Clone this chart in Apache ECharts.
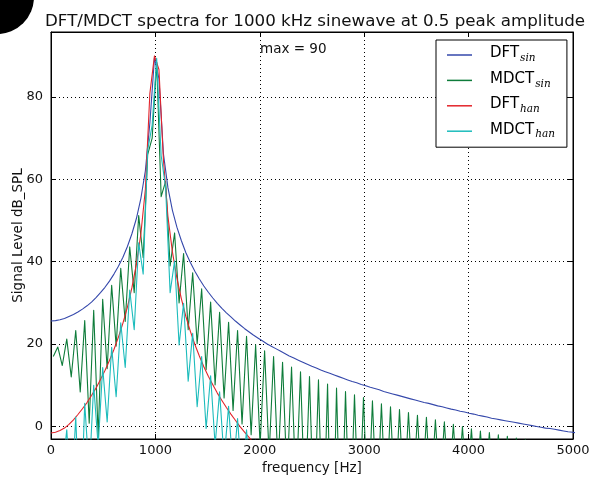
<!DOCTYPE html>
<html><head><meta charset="utf-8">
<script src="https://cdn.jsdelivr.net/npm/echarts@6/dist/echarts.min.js"></script>
<style>html,body{margin:0;padding:0;background:#fff}#c{width:592px;height:477px}</style>
</head><body><div id="c"></div>
<script>
// DFT bin frequencies (Hz)
const dftFreq = [0,43,86,129,172,215,258,301,345,388,431,474,517,560,603,646,689,732,775,818,861,904,947,991,1034,1077,1120,1163,1206,1249,1292,1335,1378,1421,1464,1507,1550,1593,1637,1680,1723,1766,1809,1852,1895,1938,1981,2024,2067,2110,2153,2196,2239,2282,2326,2369,2412,2455,2498,2541,2584,2627,2670,2713,2756,2799,2842,2885,2928,2972,3015,3058,3101,3144,3187,3230,3273,3316,3359,3402,3445,3488,3531,3574,3618,3661,3704,3747,3790,3833,3876,3919,3962,4005,4048,4091,4134,4177,4220,4264,4307,4350,4393,4436,4479,4522,4565,4608,4651,4694,4737,4780,4823,4866,4910,4953,4996,5039];
// MDCT bin frequencies (Hz)
const mdctFreq = [22,65,108,151,194,237,280,323,366,409,452,495,538,581,624,668,711,754,797,840,883,926,969,1012,1055,1098,1141,1184,1227,1270,1314,1357,1400,1443,1486,1529,1572,1615,1658,1701,1744,1787,1830,1873,1917,1960,2003,2046,2089,2132,2175,2218,2261,2304,2347,2390,2433,2476,2519,2562,2606,2649,2692,2735,2778,2821,2864,2907,2950,2993,3036,3079,3122,3165,3208,3252,3295,3338,3381,3424,3467,3510,3553,3596,3639,3682,3725,3768,3811,3854,3898,3941,3984,4027,4070,4113,4156,4199,4242,4285,4328,4371,4414,4457,4500,4544,4587,4630,4673,4716,4759,4802,4845,4888,4931,4974,5017,5060];

const dftSin = [25.6,25.7,25.9,26.2,26.7,27.2,27.8,28.5,29.3,30.2,31.3,32.5,33.8,35.3,37.0,38.9,41.1,43.7,46.8,50.5,55.4,62.1,73.7,89.5,84.5,66.2,58.0,52.5,48.4,45.1,42.2,39.8,37.7,35.8,34.1,32.6,31.2,29.9,28.7,27.6,26.6,25.6,24.7,23.8,23.0,22.2,21.5,20.8,20.1,19.5,18.9,18.3,17.7,17.1,16.6,16.1,15.6,15.1,14.6,14.2,13.7,13.3,12.9,12.5,12.1,11.7,11.3,10.9,10.6,10.2,9.9,9.5,9.2,8.9,8.5,8.2,7.9,7.6,7.3,7.0,6.7,6.4,6.1,5.8,5.6,5.3,5.0,4.8,4.5,4.2,4.0,3.7,3.5,3.2,3.0,2.7,2.5,2.3,2.0,1.8,1.6,1.4,1.2,1.0,0.8,0.6,0.4,0.2,0.0,-0.2,-0.4,-0.5,-0.7,-0.9,-1.1,-1.3,-1.4,-1.6];
const mdctSin = [17.0,19.3,14.8,21.2,12.0,23.3,8.4,25.7,0.8,28.2,-2.5,30.9,14.0,34.3,19.5,38.4,25.5,43.6,32.5,51.2,41.0,66.0,70.0,88.5,55.8,59.5,39.0,47.0,30.0,42.0,23.5,37.3,20.1,33.4,13.8,30.2,10.1,27.7,6.9,25.3,3.9,23.3,0.6,21.9,-2.0,19.8,-4.5,18.4,-7,17.0,-10,15.6,-13,14.4,-16,13.3,-20,12.1,-24,11.3,-30,10.3,-40,9.3,-32,8.5,-27,7.7,-24,7.0,-22,6.2,-21,5.5,-20,4.8,-19,4.1,-18,3.4,-17,2.7,-17,2.2,-17,1.6,-16,1.1,-16,0.5,-16,0.0,-16,-0.6,-16,-1.1,-16,-1.5,-16,-2.0,-17,-2.4,-17,-2.8,-17,-3.1,-17,-3.5,-17,-3.9,-17,-4.2,-18,-4.6,-18,-4.9,-18,-5.2];
const dftHan = [-1.6,-1.4,-1.0,-0.4,0.5,1.6,2.9,4.3,5.8,7.5,9.3,11.4,13.6,16.0,18.7,21.7,25.1,29.0,33.7,39.4,46.8,57.6,80.9,90.0,86.7,64.7,51.0,42.4,36.0,31.0,26.7,23.1,19.9,17.1,14.5,12.2,10.1,8.1,6.3,4.6,3.0,1.5,0.0,-1.3,-2.6,-3.9,-5.0,-6.1,-7.2];
const mdctHan = [-7.3,-3.9,-11.4,-0.8,-18.8,2.3,-25.9,5.6,-11.6,10.0,-4.8,14.3,1.1,19.2,7.2,25.2,14.3,33.1,23.5,44.6,37.0,67.1,73.2,89.4,65.8,58.0,32.5,40.2,19.8,29.9,11.0,22.6,4.8,17.0,-0.5,12.3,-4.5,8.4,-8.0,4.9,-11.0,1.9,-14.0,-0.8,-17.0,-3.3,-20.0,-5.5,-23.0,-7.6];

const yTicks = [0,20,40,60,80];
const xTicks = [0,1000,2000,3000,4000,5000];
const seriesNames = ['DFT_sin','MDCT_sin','DFT_han','MDCT_han'];
const titleText = 'DFT/MDCT spectra for 1000 kHz sinewave at 0.5 peak amplitude';
const annotation = 'max = 90';
const xName = 'frequency [Hz]';
const yName = 'Signal Level dB_SPL';

const FONT = 'DejaVu Sans';
const colors = ['#3548ab','#0e7c3a','#e3242b','#1cbcbc'];
function pairs(fr, vals){ return vals.map((v,i)=>[fr[i], v]); }
const dataSets = [pairs(dftFreq,dftSin), pairs(mdctFreq,mdctSin), pairs(dftFreq,dftHan), pairs(mdctFreq,mdctHan)];

const chart = echarts.init(document.getElementById('c'), null, {renderer:'canvas'});
const gridLine = {show:true, lineStyle:{color:'#000', width:1, type:[1,3]}};
const tick = {show:true, inside:true, length:5, lineStyle:{color:'#000', width:1}};
const aline = {show:true, onZero:false, lineStyle:{color:'#000', width:1}};
chart.setOption({
  animation:false,
  backgroundColor:'#fff',
  title:{text:titleText, left:40, top:8, textStyle:{fontFamily:FONT, fontSize:16.7, fontWeight:'normal', color:'#111'}},
  grid:{left:51, right:19, top:32, bottom:38, containLabel:false, outerBoundsMode:'none',
        show:true, borderColor:'#000', borderWidth:1, backgroundColor:'transparent'},
  xAxis:[
    {type:'value', min:xTicks[0], max:xTicks[xTicks.length-1], interval:1000, position:'bottom',
     axisLine:aline, axisTick:tick, splitLine:gridLine,
     axisLabel:{margin:5, fontFamily:FONT, fontSize:13, color:'#111', formatter:v=>String(v)},
     name:xName, nameLocation:'middle', nameGap:20, nameTextStyle:{fontFamily:FONT, fontSize:13.5, color:'#111'}},
    {type:'value', min:xTicks[0], max:xTicks[xTicks.length-1], interval:1000, position:'top',
     axisLine:aline, axisTick:tick, splitLine:{show:false}, axisLabel:{show:false}}
  ],
  yAxis:[
    {type:'value', min:-3.05, max:95.8, splitNumber:5, position:'left',
     axisLine:aline, axisTick:tick, splitLine:gridLine,
     axisLabel:{margin:8, fontFamily:FONT, fontSize:13, color:'#111', showMinLabel:false, showMaxLabel:false,
       formatter:v=> yTicks.includes(v)? String(v) : ''},
     name:yName, nameLocation:'middle', nameGap:26, nameMoveOverlap:false,
     nameTextStyle:{fontFamily:FONT, fontSize:13.5, color:'#111'}},
    {type:'value', min:-3.05, max:95.8, splitNumber:5, position:'right',
     axisLine:aline, axisTick:tick, splitLine:{show:false}, axisLabel:{show:false}}
  ],
  legend:{
    orient:'vertical', left:436, top:40, padding:[3,12,7,11], itemGap:4.4,
    itemWidth:25, itemHeight:1.5, icon:'rect', borderColor:'#000', borderWidth:1, backgroundColor:'#fff',
    selectedMode:false, data:seriesNames,
    formatter:name=>{const p=name.split('_'); return '{m|'+p[0]+'}{s|'+p[1]+'}';},
    textStyle:{rich:{
      m:{fontFamily:FONT, fontSize:15, color:'#000', lineHeight:18, verticalAlign:'top', padding:[0,0,0,13]},
      s:{fontFamily:'DejaVu Serif', fontStyle:'italic', fontSize:10.5, color:'#000', lineHeight:12, verticalAlign:'bottom', padding:[10,0,0,1]}
    }}
  },
  graphic:[
    {type:'circle', shape:{cx:-3, cy:-3, r:37}, style:{fill:'#000'}, z:100},
    {type:'text', left:260, top:42, style:{text:annotation, font:'13.5px "DejaVu Sans"', fill:'#111'}, z:100}
  ],
  series: seriesNames.map((n,i)=>({
    name:n, type:'line', data:dataSets[i], xAxisIndex:0, yAxisIndex:0,
    showSymbol:false, symbol:'none', clip:true, smooth:false,
    lineStyle:{color:colors[i], width:1.1, join:'round'}, itemStyle:{color:colors[i]},
    emphasis:{disabled:true}, z:2+i
  }))
});
</script>
</body></html>
